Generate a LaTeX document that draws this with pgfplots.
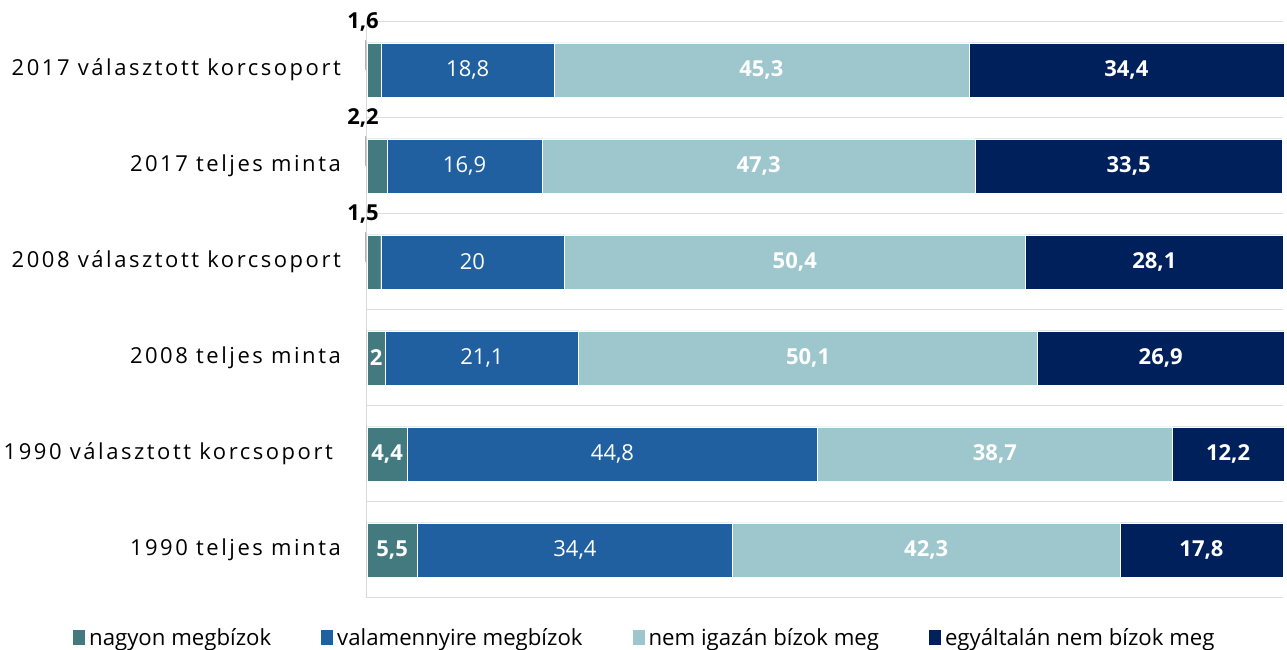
\documentclass[border=0pt]{standalone}
\usepackage{fontspec}
\setmainfont{Open Sans}
\newfontfamily\catfam[LetterSpace=11.5]{Open Sans}
\usepackage{pgfplots}
\usepackage{pgfplotstable}
\pgfplotsset{compat=1.18}
\definecolor{cA}{HTML}{437A80}
\definecolor{cB}{HTML}{2160A0}
\definecolor{cC}{HTML}{9EC6CD}
\definecolor{cD}{HTML}{00205B}
\newcommand\labfont{\fontsize{22}{26}\selectfont}
\newcommand\legfont{\fontsize{22.2}{26}\selectfont}
\newcommand\catfont{\catfam\fontsize{22}{26}\selectfont}

\pgfplotstableread{
y v lab
0 5.5 5,5
1 4.4 4,4
2 2.0 2
3 1.5 {}
4 2.2 {}
5 1.6 {}
}\tA
\pgfplotstableread{
y v lab
0 34.4 34,4
1 44.8 44,8
2 21.1 21,1
3 20.0 20
4 16.9 16,9
5 18.8 18,8
}\tB
\pgfplotstableread{
y v lab
0 42.3 42,3
1 38.7 38,7
2 50.1 50,1
3 50.4 50,4
4 47.3 47,3
5 45.3 45,3
}\tC
\pgfplotstableread{
y v lab
0 17.8 17,8
1 12.2 12,2
2 26.9 26,9
3 28.1 28,1
4 33.5 33,5
5 34.4 34,4
}\tD

\pgfplotsset{segstyle/.style={
  point meta=explicit symbolic,
  nodes near coords={\pgfplotspointmeta},
  every node near coord/.append style={anchor=center, text=white, font=\labfont\bfseries},
}}

\begin{document}
\begin{tikzpicture}
\begin{axis}[
  xbar stacked,
  clip=false,
  scale only axis, width=916pt, height=576pt,
  xmin=0, xmax=100, ymin=-0.5, ymax=5.5,
  bar width=54pt,
  axis x line=none,
  axis y line*=left,
  y axis line style={draw=black!15, line width=1pt},
  xtick=\empty,
  ytick={0,...,5},
  yticklabels={1990 teljes minta, 1990 választott korcsoport\kern8pt, 2008 teljes minta, 2008 választott korcsoport, 2017 teljes minta, 2017 választott korcsoport},
  major tick length=0pt,
  minor tick length=0pt,
  yticklabel style={font=\catfont, inner sep=0pt, xshift=-26pt},
  minor ytick={-0.5,0.5,...,5.5},
  yminorgrids,
  minor grid style={draw=black!13, line width=1pt},
  legend columns=4,
  legend image code/.code={\fill[#1,draw=none] (0pt,-7.5pt) rectangle (12pt,7.5pt);},
  legend style={at={(-0.3210,-0.0694)}, anchor=west, draw=none, fill=none, inner sep=0pt,
    font=\legfont, column sep=4pt, /tikz/every even column/.append style={column sep=50pt},
    nodes={inner sep=0pt}},
]
\addplot[fill=cA, draw=white, line width=0.4pt, segstyle] table[x=v, y=y, meta=lab] {\tA};
\addlegendentry{nagyon megbízok}
\addplot[fill=cB, draw=white, line width=0.4pt, segstyle, every node near coord/.append style={font=\labfont\mdseries}] table[x=v, y=y, meta=lab] {\tB};
\addlegendentry{valamennyire megbízok}
\addplot[fill=cC, draw=white, line width=0.4pt, segstyle] table[x=v, y=y, meta=lab] {\tC};
\addlegendentry{nem igazán bízok meg}
\addplot[fill=cD, draw=white, line width=0.4pt, segstyle] table[x=v, y=y, meta=lab] {\tD};
\addlegendentry{egyáltalán nem bízok meg}
\end{axis}
\begin{axis}[
  scale only axis, width=916pt, height=576pt,
  xmin=0, xmax=100, ymin=-0.5, ymax=5.5,
  hide axis,
  point meta=explicit symbolic,
  clip=false,
]
\addplot[draw=none, mark=none, nodes near coords={\rule{1pt}{30pt}},
  every node near coord/.append style={anchor=south, inner sep=0pt, xshift=-1.5pt, yshift=0pt, text=black!30}]
  coordinates {(0,5)[a] (0,4)[b] (0,3)[c]};
\addplot[draw=none, mark=none, nodes near coords={\pgfplotspointmeta},
  every node near coord/.append style={anchor=center, inner sep=0pt, xshift=-4pt, yshift=48pt, text=black, font=\labfont\bfseries}]
  coordinates {(0,5)[1,6] (0,4)[2,2] (0,3)[1,5]};
\end{axis}
\pgfresetboundingbox
\useasboundingbox (-367pt,-52pt) rectangle (920pt,598pt);
\end{tikzpicture}
\end{document}
